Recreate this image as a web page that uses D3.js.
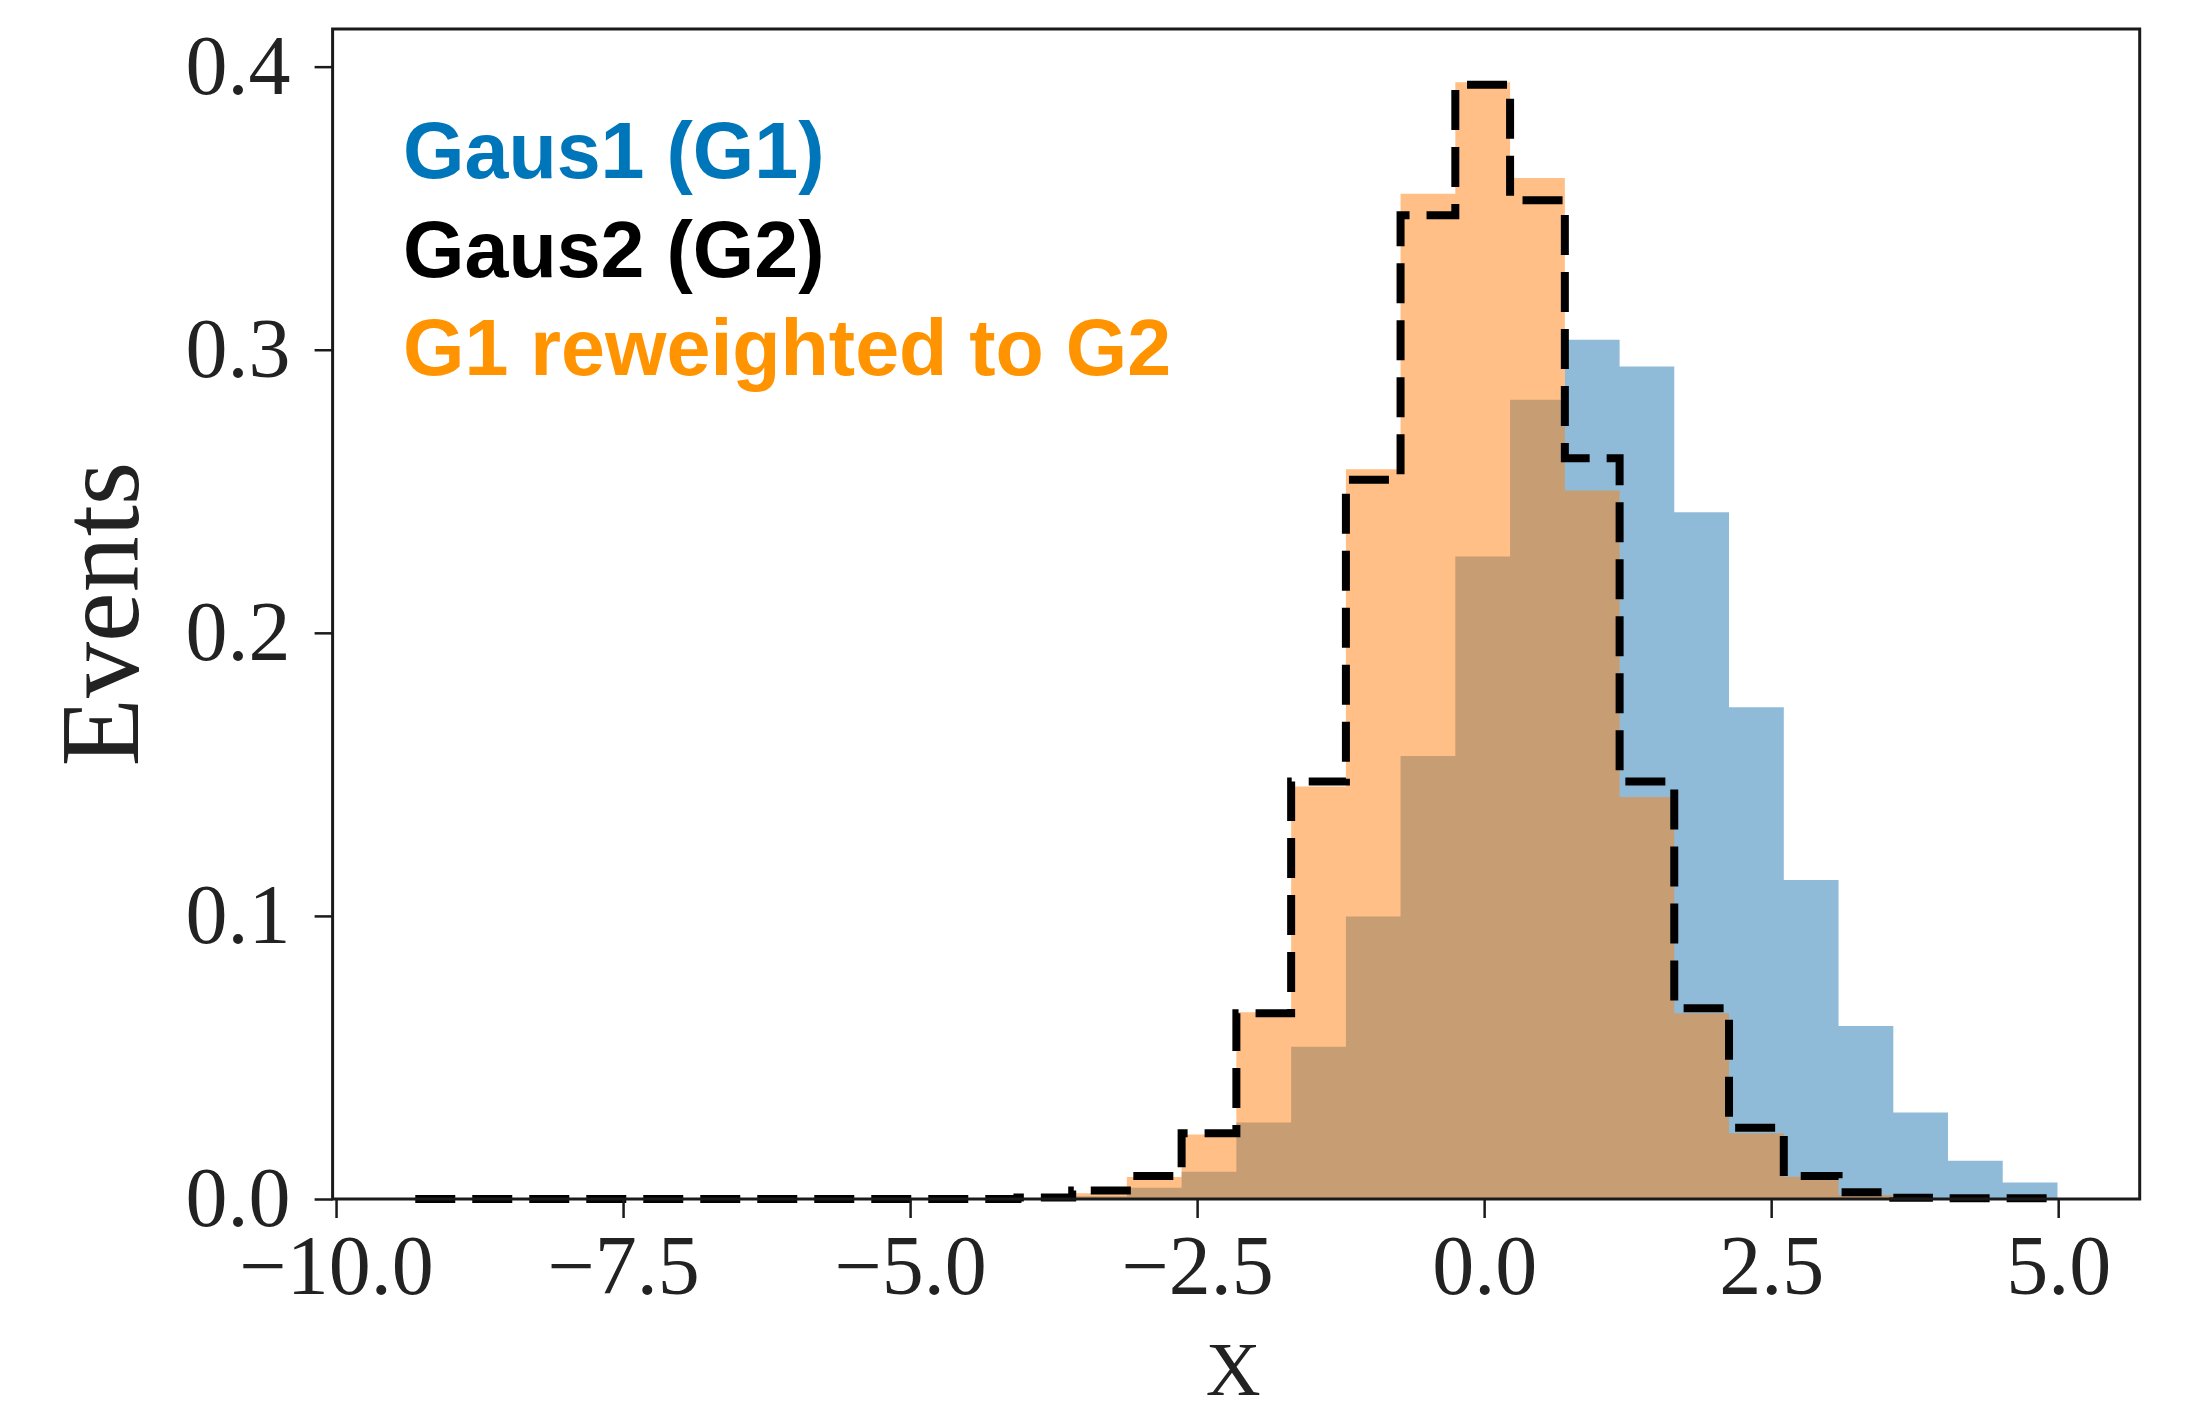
<!DOCTYPE html>
<html>
<head>
<meta charset="utf-8">
<script src="https://cdn.jsdelivr.net/npm/d3@7"></script>
<style>
  html, body { margin: 0; padding: 0; background: #ffffff; }
  svg { display: block; }
</style>
</head>
<body>
<svg id="chart" width="2193" height="1413"></svg>
<script>
// Histogram bin edges (30 bins shared by all three histograms)
const binEdges = [-9.310, -8.833, -8.356, -7.880, -7.403, -6.926, -6.449, -5.972, -5.496, -5.019,
                  -4.542, -4.065, -3.588, -3.112, -2.635, -2.158, -1.681, -1.204, -0.728, -0.251,
                   0.226,  0.703,  1.180,  1.656,  2.133,  2.610,  3.087,  3.564,  4.040,  4.517,
                   4.994];

// Normalised bin contents
const gaus1 = [0, 0, 0, 0, 0, 0, 0, 0, 0, 0,
               0, 0, 0.001, 0.004, 0.0096, 0.027, 0.0538, 0.0998, 0.1565, 0.227,
               0.2823, 0.3035, 0.2941, 0.2426, 0.1737, 0.1127, 0.0611, 0.0306, 0.0135, 0.0058];

const gaus2 = [0, 0, 0, 0, 0, 0, 0, 0, 0, 0,
               0, 0.0005, 0.003, 0.0081, 0.0232, 0.0656, 0.1475, 0.2541, 0.3475, 0.3936,
               0.3528, 0.2617, 0.1475, 0.0674, 0.0252, 0.0081, 0.0024, 0.0004, 0.0003, 0.0003];

const g1Reweighted = [0, 0, 0, 0, 0, 0, 0, 0, 0, 0,
                      0, 0, 0.002, 0.0078, 0.0228, 0.066, 0.1457, 0.2578, 0.3551, 0.3945,
                      0.3607, 0.2503, 0.142, 0.0656, 0.0232, 0.0079, 0.0014, 0, 0, 0];

// Axis ticks and labels
const xTicks = [-10, -7.5, -5, -2.5, 0, 2.5, 5];
const xTickLabels = ["\u221210.0", "\u22127.5", "\u22125.0", "\u22122.5", "0.0", "2.5", "5.0"];
const yTicks = [0, 0.1, 0.2, 0.3, 0.4];
const yTickLabels = ["0.0", "0.1", "0.2", "0.3", "0.4"];

const xDomain = [-10.03, 5.71];
const yDomain = [0, 0.4133];

const legendEntries = [
  { text: "Gaus1 (G1)", color: "#0076BA" },
  { text: "Gaus2 (G2)", color: "#000000" },
  { text: "G1 reweighted to G2", color: "#FF9300" }
];

// ---- layout ----
const plot = { left: 332.6, right: 2139.7, top: 29, bottom: 1199 };
const serif = "'Liberation Serif', 'Times New Roman', serif";

const svg = d3.select("#chart");
svg.append("rect").attr("width", 2193).attr("height", 1413).attr("fill", "#ffffff");

const x = d3.scaleLinear().domain(xDomain).range([plot.left, plot.right]);
const y = d3.scaleLinear().domain(yDomain).range([plot.bottom, plot.top]);

// Step points for a histogram: one point per edge, value held until the next edge
function stepPoints(values) {
  return binEdges.map((e, i) => ({ x: e, v: values[Math.min(i, values.length - 1)] }));
}

const area = d3.area()
  .curve(d3.curveStepAfter)
  .x(d => x(d.x))
  .y0(y(0))
  .y1(d => y(d.v));

const g = svg.append("g");

// Filled histograms (semi-transparent)
g.append("path")
  .attr("d", area(stepPoints(gaus1)))
  .attr("fill", "#1f77b4")
  .attr("fill-opacity", 0.5);

g.append("path")
  .attr("d", area(stepPoints(g1Reweighted)))
  .attr("fill", "#ff7f0e")
  .attr("fill-opacity", 0.5);

// Dashed step outline for the target distribution
const outline = [{ x: binEdges[0], v: 0 }];
gaus2.forEach((v, i) => {
  outline.push({ x: binEdges[i], v: v });
  outline.push({ x: binEdges[i + 1], v: v });
});
outline.push({ x: binEdges[binEdges.length - 1], v: 0 });

const line = d3.line().x(d => x(d.x)).y(d => y(d.v));
g.append("path")
  .attr("d", line(outline))
  .attr("fill", "none")
  .attr("stroke", "#000000")
  .attr("stroke-width", 8)
  .attr("stroke-dasharray", "40,17")
  .attr("stroke-linejoin", "miter");

// ---- axes ----
const xAxis = d3.axisBottom(x)
  .tickValues(xTicks)
  .tickFormat((d, i) => xTickLabels[i])
  .tickSize(19)
  .tickPadding(16);

const yAxis = d3.axisLeft(y)
  .tickValues(yTicks)
  .tickFormat((d, i) => yTickLabels[i])
  .tickSize(18)
  .tickPadding(24);

const gx = svg.append("g").attr("transform", `translate(0,${plot.bottom})`).call(xAxis);
const gy = svg.append("g").attr("transform", `translate(${plot.left},0)`).call(yAxis);

[gx, gy].forEach(ax => {
  ax.select(".domain").remove();
  ax.selectAll(".tick line").attr("stroke", "#1a1a1a").attr("stroke-width", 2.5);
  ax.selectAll(".tick text")
    .attr("fill", "#222222")
    .style("font-family", serif)
    .style("font-size", "84px");
});

// Frame
svg.append("rect")
  .attr("x", plot.left)
  .attr("y", plot.top)
  .attr("width", plot.right - plot.left)
  .attr("height", plot.bottom - plot.top)
  .attr("fill", "none")
  .attr("stroke", "#1a1a1a")
  .attr("stroke-width", 3);

// Axis titles
svg.append("text")
  .attr("transform", `translate(138,${(plot.top + plot.bottom) / 2}) rotate(-90)`)
  .attr("text-anchor", "middle")
  .style("font-family", serif)
  .style("font-size", "112px")
  .attr("fill", "#222222")
  .text("Events");

svg.append("text")
  .attr("x", (plot.left + plot.right) / 2 - 3)
  .attr("y", 1395)
  .attr("text-anchor", "middle")
  .style("font-family", serif)
  .style("font-size", "76px")
  .attr("fill", "#222222")
  .text("X");

// Legend labels
svg.append("g")
  .selectAll("text")
  .data(legendEntries)
  .join("text")
  .attr("x", 403)
  .attr("y", (d, i) => 178 + i * 98.5)
  .style("font-family", "'Liberation Sans', Arial, Helvetica, sans-serif")
  .style("font-weight", "bold")
  .style("font-size", "79px")
  .attr("fill", d => d.color)
  .text(d => d.text);
</script>
</body>
</html>
